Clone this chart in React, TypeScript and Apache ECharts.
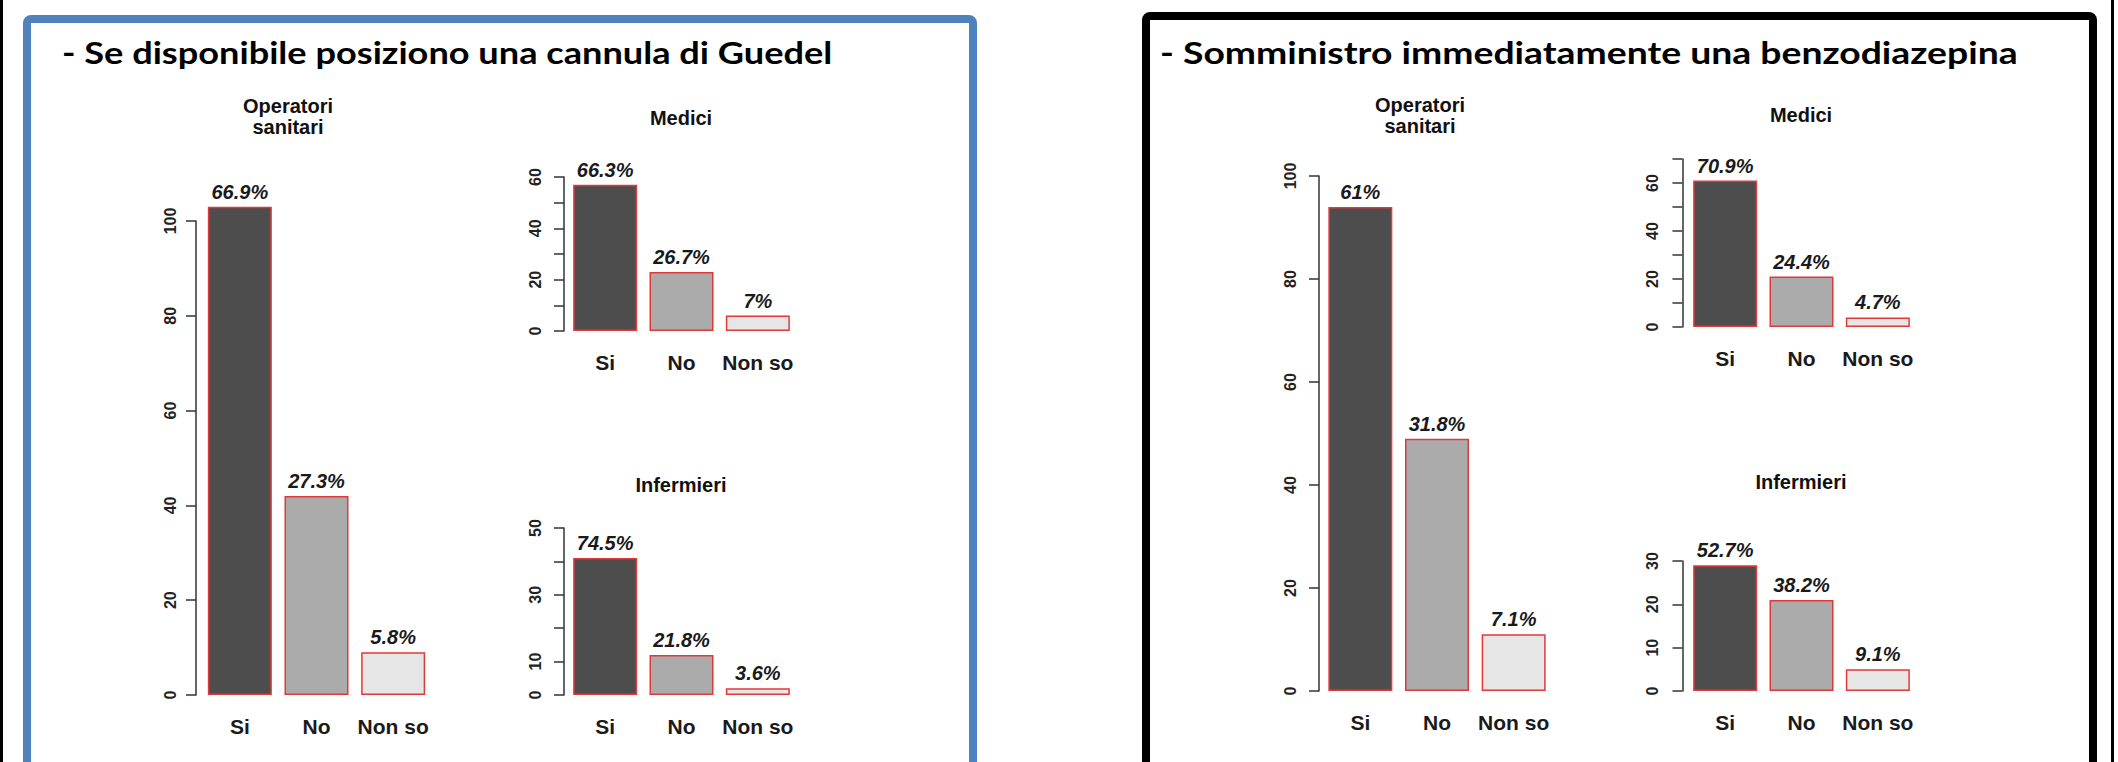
import React, { useEffect, useRef } from "react";
import * as echarts from "echarts";

const categories = ["Si", "No", "Non so"];

const leftTitle = "- Se disponibile posiziono una cannula di Guedel";
const rightTitle = "- Somministro immediatamente una benzodiazepina";

const leftOperatori = [103, 42, 9];
const leftOperatoriPct = ["66.9%", "27.3%", "5.8%"];
const leftMedici = [57, 23, 6];
const leftMediciPct = ["66.3%", "26.7%", "7%"];
const leftInfermieri = [41, 12, 2];
const leftInfermieriPct = ["74.5%", "21.8%", "3.6%"];

const rightOperatori = [94, 49, 11];
const rightOperatoriPct = ["61%", "31.8%", "7.1%"];
const rightMedici = [61, 21, 4];
const rightMediciPct = ["70.9%", "24.4%", "4.7%"];
const rightInfermieri = [29, 21, 5];
const rightInfermieriPct = ["52.7%", "38.2%", "9.1%"];

const ticksOperatori = [0, 20, 40, 60, 80, 100];
const ticksLeftMedici = [0, 20, 40, 60];
const ticksLeftInfermieri = [0, 10, 30, 50];
const ticksRightMedici = [0, 20, 40, 60];
const ticksRightInfermieri = [0, 10, 20, 30];

const FONT = "'Liberation Sans', Arial, Helvetica, sans-serif";
const fills = ["#4D4D4D", "#ABABAB", "#E6E6E6"];

function measure(text: string, font: string): number {
  try {
    const c = document.createElement("canvas").getContext("2d");
    if (!c) return 0;
    c.font = font;
    return c.measureText(text).width;
  } catch (e) {
    return 0;
  }
}

export default function App() {
  const ref = useRef<HTMLDivElement>(null);

  useEffect(() => {
    document.body.style.margin = "0";
    if (!ref.current) return;
    const chart = echarts.init(ref.current, undefined, { renderer: "svg" });

    const panels = [
      { left: 201.5, top: 221, width: 230, height: 474, data: leftOperatori, pct: leftOperatoriPct, max: 100, interval: 20, shown: ticksOperatori, offset: 5.5, margin: 18 },
      { left: 567, top: 177, width: 229, height: 154, data: leftMedici, pct: leftMediciPct, max: 60, interval: 10, shown: ticksLeftMedici, offset: 3, margin: 21 },
      { left: 567, top: 528, width: 229, height: 167, data: leftInfermieri, pct: leftInfermieriPct, max: 50, interval: 10, shown: ticksLeftInfermieri, offset: 3, margin: 21 },
      { left: 1322, top: 176, width: 230, height: 515, data: rightOperatori, pct: rightOperatoriPct, max: 100, interval: 20, shown: ticksOperatori, offset: 3, margin: 21 },
      { left: 1687, top: 159, width: 229, height: 168, data: rightMedici, pct: rightMediciPct, max: 70, interval: 10, shown: ticksRightMedici, offset: 4.5, margin: 22 },
      { left: 1687, top: 561, width: 229, height: 130, data: rightInfermieri, pct: rightInfermieriPct, max: 30, interval: 10, shown: ticksRightInfermieri, offset: 4.5, margin: 22 },
    ];

    const grid = panels.map((p) => ({ left: p.left, top: p.top, width: p.width, height: p.height, containLabel: false }));
    const xAxis = panels.map((p, i) => ({
      type: "category",
      gridIndex: i,
      data: categories,
      axisLine: { show: false },
      axisTick: { show: false },
      axisLabel: { interval: 0, hideOverlap: false, margin: 21, fontSize: 21, fontWeight: "bold", fontFamily: FONT, color: "#1a1a1a" },
    }));
    const yAxis = panels.map((p, i) => ({
      type: "value",
      gridIndex: i,
      min: 0,
      max: p.max,
      interval: p.interval,
      offset: p.offset,
      axisLine: { show: true, lineStyle: { color: "#333", width: 1.5 } },
      axisTick: { show: true, length: 10, lineStyle: { color: "#333", width: 1.5 } },
      splitLine: { show: false },
      axisLabel: {
        rotate: 90,
        margin: p.margin,
        fontSize: 16,
        fontWeight: "bold",
        fontFamily: FONT,
        color: "#222",
        formatter: (v: number) => (p.shown.includes(v) ? String(v) : ""),
      },
    }));
    const series = panels.map((p, i) => ({
      type: "bar",
      xAxisIndex: i,
      yAxisIndex: i,
      barWidth: 64,
      clip: false,
      data: p.data.map((v, j) => ({ value: v, itemStyle: { color: fills[j] } })),
      itemStyle: { borderColor: "#E0393B", borderWidth: 1.5 },
      label: {
        show: true,
        position: "top",
        distance: 5,
        fontSize: 20,
        fontStyle: "italic",
        fontWeight: "bold",
        fontFamily: FONT,
        color: "#1a1a1a",
        formatter: (params: any) => p.pct[params.dataIndex],
      },
    }));

    const titleFont = "bold 31px Lato";
    const lw = measure(leftTitle, titleFont);
    const rw = measure(rightTitle, titleFont);
    const leftScale = lw > 0 ? 771 / lw : 1;
    const rightScale = rw > 0 ? 858 / rw : 1;

    const sub = (text: string, x: number, y: number) => ({
      type: "text",
      x,
      y,
      style: {
        text,
        fontSize: 20,
        fontWeight: "bold",
        fontFamily: FONT,
        fill: "#111",
        align: "center",
        verticalAlign: "middle",
        lineHeight: 21,
      },
    });

    const graphic = [
      { type: "rect", shape: { x: 0, y: 0, width: 3, height: 762 }, style: { fill: "#000" } },
      { type: "rect", shape: { x: 2111, y: 0, width: 3, height: 762 }, style: { fill: "#000" } },
      { type: "rect", shape: { x: 27, y: 19, width: 946, height: 800, r: 4 }, style: { fill: "none", stroke: "#4F81BD", lineWidth: 8 } },
      { type: "rect", shape: { x: 1146, y: 16, width: 947, height: 800, r: 4 }, style: { fill: "none", stroke: "#000", lineWidth: 8 } },
      {
        type: "text", x: 62, y: 52, scaleX: leftScale,
        style: { text: leftTitle, fontSize: 31, fontWeight: "bold", fontFamily: "Lato, 'Open Sans', sans-serif", fill: "#000", align: "left", verticalAlign: "middle" },
      },
      {
        type: "text", x: 1160, y: 52, scaleX: rightScale,
        style: { text: rightTitle, fontSize: 31, fontWeight: "bold", fontFamily: "Lato, 'Open Sans', sans-serif", fill: "#000", align: "left", verticalAlign: "middle" },
      },
      sub("Operatori\nsanitari", 288, 116),
      sub("Medici", 681, 118),
      sub("Infermieri", 681, 485),
      sub("Operatori\nsanitari", 1420, 115),
      sub("Medici", 1801, 115),
      sub("Infermieri", 1801, 482),
    ];

    chart.setOption({
      animation: false,
      backgroundColor: "#fff",
      grid,
      xAxis,
      yAxis,
      series,
      graphic,
    });

    return () => chart.dispose();
  }, []);

  return <div ref={ref} style={{ width: 2118, height: 762 }} />;
}
